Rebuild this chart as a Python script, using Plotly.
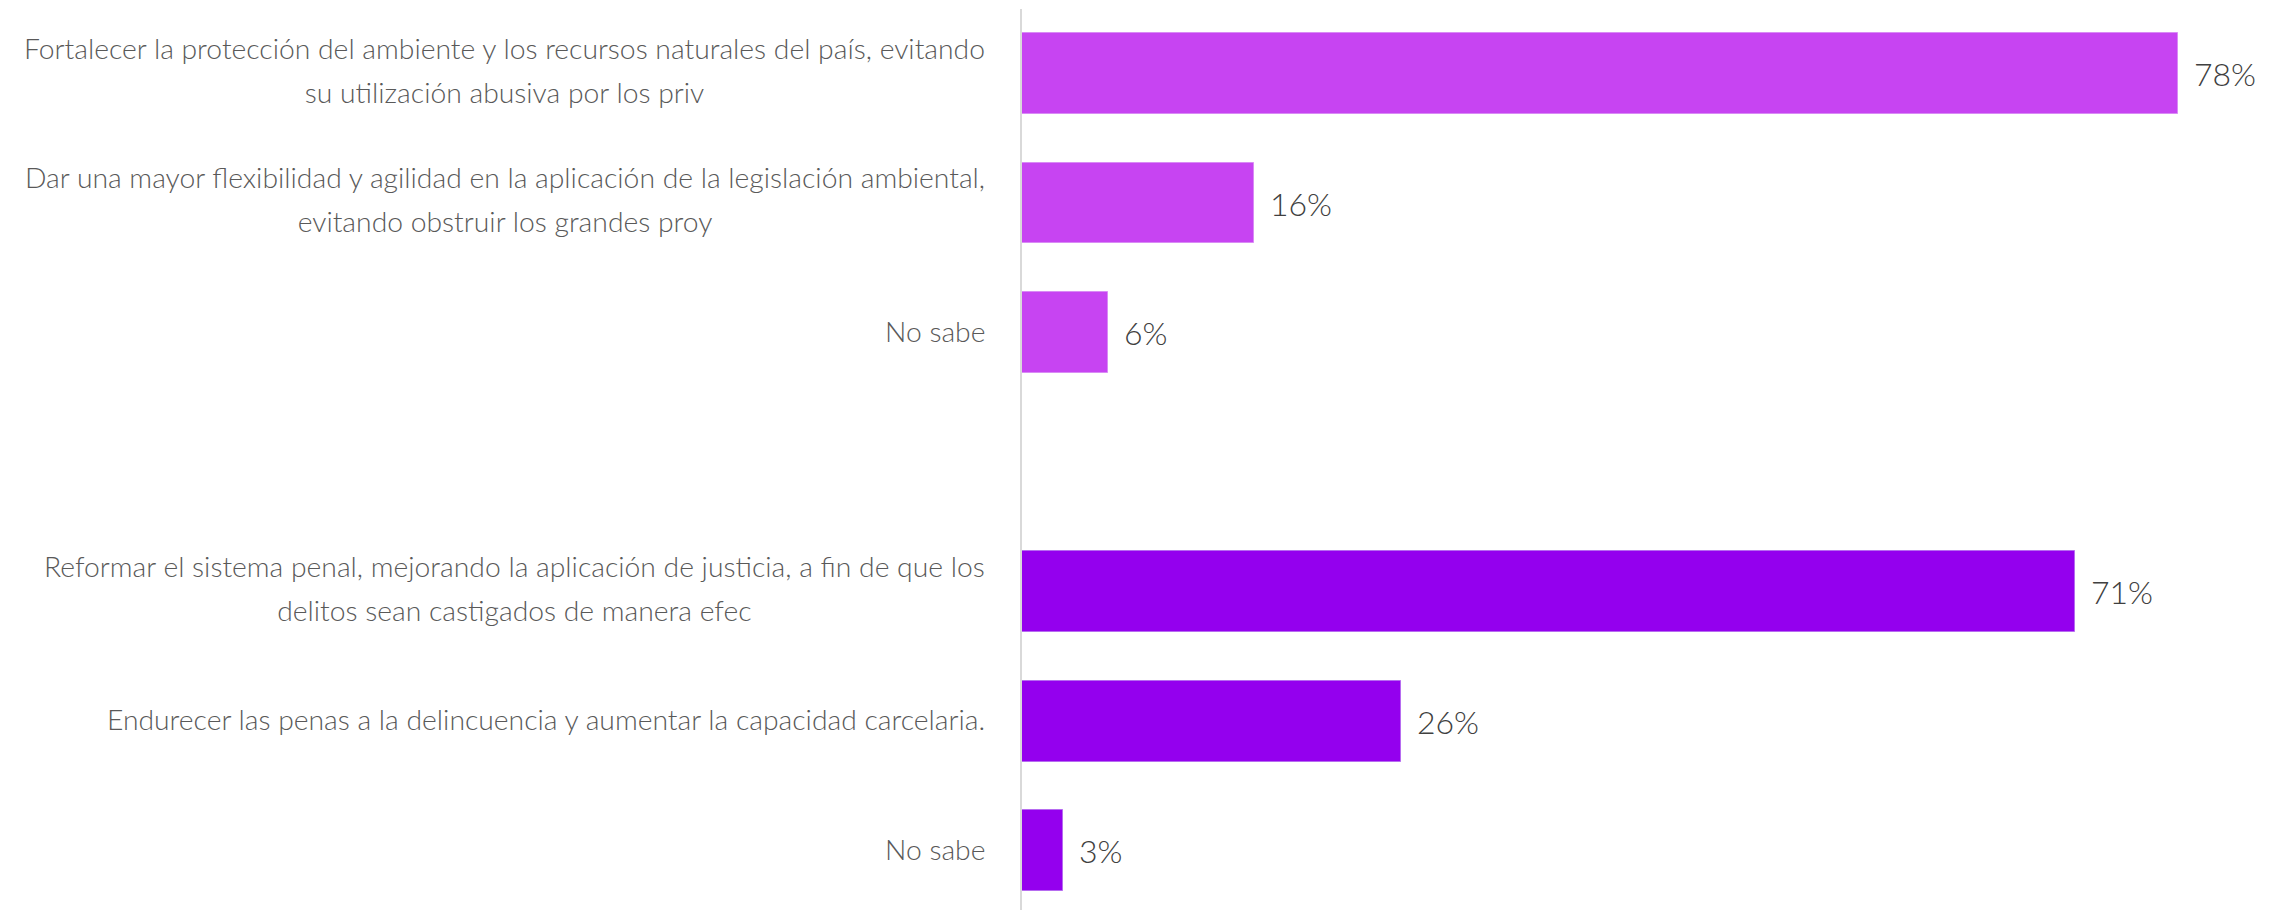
import plotly.graph_objects as go

# Data
cats_amb = [
    "Fortalecer la protección del ambiente y los recursos naturales del país, evitando<br>su utilización abusiva por los priv",
    "Dar una mayor flexibilidad y agilidad en la aplicación de la legislación ambiental,<br>evitando obstruir los grandes proy",
    "No sabe",
]
vals_amb = [78.2, 15.7, 5.8]

cats_seg = [
    "Reformar el sistema penal, mejorando la aplicación de justicia, a fin de que los<br>delitos sean castigados de manera efec",
    "Endurecer las penas a la delincuencia y aumentar la capacidad carcelaria.",
    "No sabe",
]
vals_seg = [71.2, 25.6, 2.8]

color_amb = "#C744F2"
color_seg = "#9400EE"

# unique category ids (spacer between groups)
ids_amb = [f"a{i}" for i in range(len(cats_amb))]
ids_seg = [f"s{i}" for i in range(len(cats_seg))]
order = ids_amb + ["gap"] + ids_seg

fig = go.Figure()
fig.add_trace(go.Bar(y=ids_amb, x=vals_amb, orientation="h", width=0.625,
                     marker=dict(color=color_amb, line=dict(color="#D98BF5", width=1)),
                     hoverinfo="x"))
fig.add_trace(go.Bar(y=ids_seg, x=vals_seg, orientation="h", width=0.625,
                     marker=dict(color=color_seg, line=dict(color="#B66CF0", width=1)),
                     hoverinfo="x"))

font_family = "Lato"
label_size = 28.3
line_gap = 43.5
base_size = line_gap / 1.3   # sets the line spacing; glyphs drawn at label_size
span = '<span style="font-size:%.1fpx">{}</span>' % label_size

annotations = []
for ids, vals, cats in ((ids_amb, vals_amb, cats_amb), (ids_seg, vals_seg, cats_seg)):
    for c, v, lab in zip(ids, vals, cats):
        annotations.append(dict(x=v, y=c, xref="x", yref="y", text=f"{v:.0f}%",
                                showarrow=False, xanchor="left", yanchor="middle",
                                xshift=14,
                                font=dict(family=font_family, size=32, color="#404040", weight=300)))
        parts = lab.split("<br>")
        text = "<br>".join(span.format(part) for part in parts)
        annotations.append(dict(x=0, xref="paper", y=c, yref="y", showarrow=False,
                                xanchor="right", yanchor="middle", align="center",
                                xshift=-35, yshift=4 if len(parts) > 1 else 2, text=text,
                                font=dict(family=font_family, size=base_size,
                                          color="#595959", weight=300)))

# page body has an 8px margin: figure is sized/margined to compensate
fig.update_layout(
    width=2268, height=902,
    margin=dict(l=1014, r=12, t=1, b=0, autoexpand=False),
    paper_bgcolor="white", plot_bgcolor="white",
    showlegend=False, bargap=0,
    annotations=annotations,
    xaxis=dict(range=[0, 84], showgrid=False, zeroline=False, showticklabels=False,
               showline=False, fixedrange=True, automargin=False),
    yaxis=dict(categoryorder="array", categoryarray=order,
               range=[6.459, -0.498], showgrid=False, zeroline=False,
               showline=True, linecolor="#D9D9D9", linewidth=2,
               ticks="", showticklabels=False, automargin=False),
)

fig.write_html("out.html")
